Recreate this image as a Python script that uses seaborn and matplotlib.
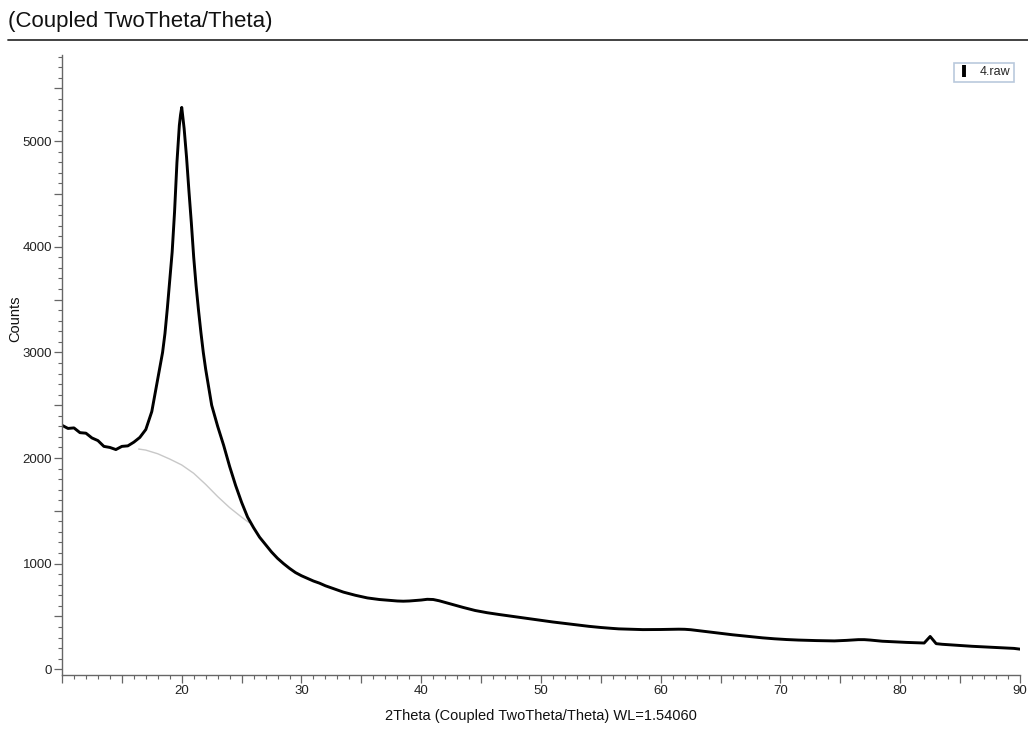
import matplotlib
matplotlib.use("Agg")
import matplotlib.pyplot as plt
from matplotlib.lines import Line2D
from matplotlib.ticker import MultipleLocator, FuncFormatter
import seaborn as sns

# ---- data ----
two_theta = [
    10.0, 10.5, 11.0, 11.5, 12.0, 12.5, 13.0, 13.5, 14.0, 14.5, 15.0, 15.5, 16.0, 16.5, 17.0, 17.5, 18.0,
    18.2, 18.4, 18.6, 18.8, 19.0, 19.2, 19.4, 19.6, 19.8,
    19.9, 20.0, 20.1,
    20.2, 20.4, 20.6, 20.8, 21.0, 21.2, 21.4, 21.6, 21.8, 22.0,
    22.5, 23.0, 23.5, 24.0, 24.5, 25.0, 25.5, 26.0, 26.5, 27.0, 27.5, 28.0, 28.5, 29.0, 29.5, 30.0,
    30.5, 31.0, 31.5, 32.0, 32.5, 33.0, 33.5, 34.0, 34.5, 35.0, 35.5, 36.0, 36.5, 37.0, 37.5, 38.0, 38.5, 39.0, 39.5, 40.0,
    40.5, 41.0, 41.5, 42.0, 42.5, 43.0, 43.5, 44.0, 44.5, 45.0, 45.5, 46.0, 46.5, 47.0, 47.5, 48.0, 48.5, 49.0, 49.5, 50.0,
    50.5, 51.0, 51.5, 52.0, 52.5, 53.0, 53.5, 54.0, 54.5, 55.0, 55.5, 56.0, 56.5, 57.0, 57.5, 58.0, 58.5, 59.0, 59.5, 60.0,
    60.5, 61.0, 61.5, 62.0, 62.5, 63.0, 63.5, 64.0, 64.5, 65.0, 65.5, 66.0, 66.5, 67.0, 67.5, 68.0, 68.5, 69.0, 69.5, 70.0,
    70.5, 71.0, 71.5, 72.0, 72.5, 73.0, 73.5, 74.0, 74.5, 75.0, 75.5, 76.0, 76.5, 77.0, 77.5, 78.0, 78.5, 79.0, 79.5, 80.0,
    80.5, 81.0, 81.5, 82.0, 82.5, 83.0, 83.5, 84.0, 84.5, 85.0, 85.5, 86.0, 86.5, 87.0, 87.5, 88.0, 88.5, 89.0, 89.5, 90.0,
]
counts = [
    2310, 2280, 2285, 2240, 2235, 2190, 2165, 2110, 2100, 2080, 2110, 2115, 2150, 2195, 2270, 2440, 2750,
    2870, 3000, 3180, 3420, 3680, 3950, 4330, 4800, 5150,
    5250, 5320, 5220,
    5120, 4850, 4530, 4230, 3900, 3630, 3400, 3190, 3000, 2840,
    2500, 2300, 2120, 1920, 1740, 1580, 1440, 1340, 1250, 1180, 1110, 1050, 1000, 955, 915, 885,
    860, 835, 815, 790, 770, 750, 730, 715, 700, 688, 675, 667, 660, 655, 650, 646, 644, 646, 650, 655,
    662, 660, 648, 632, 615, 600, 585, 570, 556, 545, 535, 526, 518, 510, 503, 495, 487, 478, 470, 461,
    454, 447, 440, 433, 426, 420, 413, 406, 400, 395, 390, 386, 382, 380, 378, 376, 375, 375, 375, 376,
    377, 378, 379, 378, 374, 367, 360, 352, 345, 338, 332, 326, 320, 314, 308, 302, 297, 292, 288, 284,
    281, 278, 276, 274, 272, 271, 270, 269, 268, 270, 273, 277, 280, 280, 276, 270, 265, 262, 259, 256,
    254, 252, 250, 248, 310, 242, 236, 232, 228, 224, 221, 217, 214, 211, 208, 205, 202, 200, 197, 190,
]

# background (amorphous baseline) curve
bg_theta = [16.4, 17.0, 18.0, 19.0, 20.0, 21.0, 22.0, 23.0, 24.0, 25.0, 25.6]
bg_counts = [2085, 2075, 2040, 1990, 1934, 1855, 1750, 1635, 1530, 1440, 1390]

title_text = "(Coupled TwoTheta/Theta)"
series_name = "4.raw"
x_label = "2Theta (Coupled TwoTheta/Theta) WL=1.54060"
y_label = "Counts"

# ---- style ----
sns.set_style("white")
plt.rcParams["font.family"] = ["Liberation Sans", "DejaVu Sans"]

fig = plt.figure(figsize=(10.28, 7.43), dpi=100)
ax = fig.add_axes([0.0603, 0.0915, 0.9319, 0.835])

sns.lineplot(x=bg_theta, y=bg_counts, ax=ax, color="#c8c8c8", linewidth=1.0,
             estimator=None, sort=False)
sns.lineplot(x=two_theta, y=counts, ax=ax, color="black", linewidth=2.1,
             estimator=None, sort=False)

ax.set_xlim(10, 90)
ax.set_ylim(-55, 5820)

for side in ("top", "right"):
    ax.spines[side].set_visible(False)
for side in ("left", "bottom"):
    ax.spines[side].set_color("#666666")
    ax.spines[side].set_linewidth(1.0)

ax.xaxis.set_major_locator(MultipleLocator(5))
ax.xaxis.set_minor_locator(MultipleLocator(1))
ax.yaxis.set_major_locator(MultipleLocator(500))
ax.yaxis.set_minor_locator(MultipleLocator(100))

ax.xaxis.set_major_formatter(FuncFormatter(lambda v, p: f"{int(round(v))}" if round(v) % 10 == 0 and v > 10.5 else ""))
ax.yaxis.set_major_formatter(FuncFormatter(lambda v, p: f"{int(round(v))}" if round(v) % 1000 == 0 else ""))

ax.tick_params(axis="x", which="both", bottom=True, top=False)
ax.tick_params(axis="y", which="both", left=True, right=False)
ax.tick_params(axis="both", which="major", direction="out", length=5.5, width=0.9,
               color="#666666", labelsize=9.5, labelcolor="#222222", pad=1.5)
ax.tick_params(axis="both", which="minor", direction="out", length=3.0, width=0.8,
               color="#666666")

ax.set_xlabel(x_label, fontsize=10.5, color="#111111", labelpad=9)
ax.set_ylabel(y_label, fontsize=10.5, color="#111111")
ax.yaxis.set_label_coords(-0.041, 0.575)

handle = Line2D([], [], color="black", marker="|", linestyle="none",
                markersize=8, markeredgewidth=2.8)
leg = ax.legend([handle], [series_name], loc="upper right",
                bbox_to_anchor=(0.9935, 0.987), fontsize=9, frameon=True,
                fancybox=False, handlelength=1.0, handletextpad=0.7,
                borderpad=0.3, borderaxespad=0.0)
leg.get_frame().set_edgecolor("#a8bcd4")
leg.get_frame().set_linewidth(1.2)

fig.text(0.008, 0.971, title_text, fontsize=16, va="center", ha="left", color="#111111")
fig.add_artist(Line2D([0.008, 1.0], [0.946, 0.946], transform=fig.transFigure,
                      color="#333333", linewidth=1.3))

fig.savefig("out.png", dpi=100)
